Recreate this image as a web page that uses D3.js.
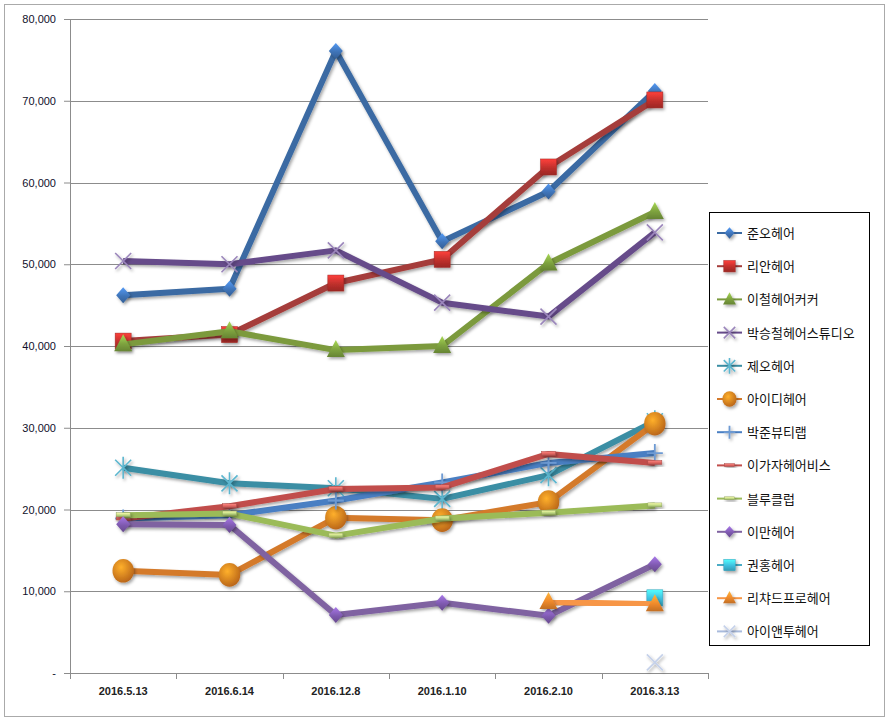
<!DOCTYPE html>
<html>
<head>
<meta charset="utf-8">
<script src="https://cdnjs.cloudflare.com/ajax/libs/d3/7.8.5/d3.min.js"></script>
<style>
  body { margin:0; background:#fff; }
  #canvas { width:893px; height:726px; }
  text { font-family: "Liberation Sans", Arial, sans-serif; }
  .legend text { font-family: "Noto Sans CJK KR", sans-serif; }
</style>
</head>
<body>
<div id="canvas" class="canvas"></div>
<script>
// --- data
var dates = ['2016.5.13', '2016.6.14', '2016.12.8', '2016.1.10', '2016.2.10', '2016.3.13'];
var yTicks = [0, 10000, 20000, 30000, 40000, 50000, 60000, 70000, 80000];

var juno      = [46200, 47000, 76100, 52800, 58900, 71200];
var lian      = [40600, 41400, 47700, 50600, 61900, 70100];
var leechul   = [40200, 41800, 39500, 40000, 50100, 56400];
var parkseung = [50400, 50000, 51700, 45300, 43600, 53900];
var jeo       = [25100, 23200, 22600, 21300, 24200, 30800];
var idhair    = [12500, 12000, 19000, 18700, 20900, 30500];
var parkjun   = [18900, 19300, 21100, 23300, 25700, 26900];
var leegaja   = [18900, 20400, 22500, 22700, 26800, 25700];
var blueclub  = [19300, 19500, 16800, 18900, 19600, 20500];
var leeman    = [18200, 18100, 7100, 8600, 7000, 13300];
var kwonhong  = [null, null, null, null, null, 9200];
var richard   = [null, null, null, null, 8700, 8400];
var iandtwo   = [null, null, null, null, null, 1300];

var series = [
  {name:'준오헤어',         v:juno,      line:'#3a6aa3', fill:'#3f74b8', m:'diamond'},
  {name:'리안헤어',         v:lian,      line:'#a53d3a', fill:'#c0302c', m:'square'},
  {name:'이철헤어커커',     v:leechul,   line:'#7b9a3e', fill:'#7ea33f', m:'triangle'},
  {name:'박승철헤어스튜디오', v:parkseung, line:'#664b8a', fill:'#9b86bb', m:'x'},
  {name:'제오헤어',         v:jeo,       line:'#3a8ea4', fill:'#5cb6cf', m:'star'},
  {name:'아이디헤어',       v:idhair,    line:'#d47a2c', fill:'#e07b1e', m:'circle'},
  {name:'박준뷰티랩',       v:parkjun,   line:'#4a7fc3', fill:'#6d9ad3', m:'plus'},
  {name:'이가자헤어비스',   v:leegaja,   line:'#c14e4b', fill:'#e06662', m:'dash'},
  {name:'블루클럽',         v:blueclub,  line:'#9bbb59', fill:'#c2dc84', m:'dash'},
  {name:'이만헤어',         v:leeman,    line:'#7f62a1', fill:'#7f5ab0', m:'diamond'},
  {name:'권홍헤어',         v:kwonhong,  line:'#4bacc6', fill:'#3fc0df', m:'square'},
  {name:'리챠드프로헤어',   v:richard,   line:'#f79646', fill:'#f08a2c', m:'triangle'},
  {name:'아이앤투헤어',     v:iandtwo,   line:'#a9bbdd', fill:'#c5d1ea', m:'x'}
];

// --- margin convention
var W = 893, H = 726;
var M = {top:19, left:70, right:185, bottom:53};
var w = W - M.left - M.right, h = H - M.top - M.bottom;

var svg = d3.select('.canvas').append('svg')
  .attr('width', W).attr('height', H);

var defs = svg.append('defs');
var f = defs.append('filter').attr('id', 'shadow')
  .attr('x', '-50%').attr('y', '-50%').attr('width', '200%').attr('height', '200%');
f.append('feDropShadow').attr('dx', 1.5).attr('dy', 2).attr('stdDeviation', 1.5)
  .attr('flood-color', '#000').attr('flood-opacity', 0.35);

series.forEach(function(s, i) {
  var g = defs.append('linearGradient').attr('id', 'grad' + i)
    .attr('x1', 0).attr('y1', 0).attr('x2', 0).attr('y2', 1);
  g.append('stop').attr('offset', '0%').attr('stop-color', d3.color(s.fill).brighter(0.8));
  g.append('stop').attr('offset', '55%').attr('stop-color', s.fill);
  g.append('stop').attr('offset', '100%').attr('stop-color', d3.color(s.fill).darker(0.6));
  var r = defs.append('radialGradient').attr('id', 'rgrad' + i)
    .attr('cx', '40%').attr('cy', '35%').attr('r', '65%');
  r.append('stop').attr('offset', '0%').attr('stop-color', d3.color(s.fill).brighter(1));
  r.append('stop').attr('offset', '100%').attr('stop-color', d3.color(s.fill).darker(0.5));
});

// outer chart border
svg.append('rect').attr('x', 4.5).attr('y', 4.5).attr('width', 880).attr('height', 712)
  .attr('fill', 'none').attr('stroke', '#aaa').attr('stroke-width', 1);

var plot = svg.append('g').attr('transform', 'translate(' + M.left + ',' + M.top + ')');

var x = d3.scaleBand().domain(dates).range([0, w]);
var y = d3.scaleLinear().domain([0, 80000]).range([h, 0]);

// gridlines
plot.selectAll('.grid').data(yTicks.slice(1)).enter().append('line')
  .attr('x1', 0).attr('x2', w)
  .attr('y1', function(d){ return Math.round(y(d)) + 0.5; })
  .attr('y2', function(d){ return Math.round(y(d)) + 0.5; })
  .attr('stroke', '#8c8c8c').attr('stroke-width', 1);

// y axis
var yAxis = d3.axisLeft(y).tickValues(yTicks).tickSize(6).tickPadding(8)
  .tickFormat(function(d){ return d === 0 ? '-' : d3.format(',')(d); });
var ya = plot.append('g').call(yAxis);
ya.select('.domain').attr('stroke', '#8c8c8c');
ya.selectAll('.tick line').attr('stroke', '#8c8c8c');
ya.selectAll('text').attr('font-size', 11).attr('fill', '#10102a')
  .attr('font-family', '"Liberation Sans", Arial, sans-serif');

// x axis
var xa = plot.append('g').attr('transform', 'translate(0,' + h + ')')
  .call(d3.axisBottom(x).tickSize(0).tickPadding(14));
xa.select('.domain').attr('stroke', '#8c8c8c');
xa.selectAll('text').attr('font-size', 11).attr('font-weight', 'bold').attr('fill', '#222')
  .attr('font-family', '"Liberation Sans Narrow", "Liberation Sans", Arial, sans-serif');
var bounds = dates.map(function(d){ return x(d); }).concat([w]);
xa.selectAll('.btick').data(bounds).enter().append('line')
  .attr('x1', function(d){ return Math.round(d) + 0.5; })
  .attr('x2', function(d){ return Math.round(d) + 0.5; })
  .attr('y1', 0).attr('y2', 6).attr('stroke', '#8c8c8c');

var cx = function(i){ return x(dates[i]) + x.bandwidth() / 2; };

// --- markers
function marker(sel, s, i, size) {
  var k = size / 14;
  var g = sel.append('g').attr('filter', 'url(#shadow)');
  var fillG = 'url(#grad' + i + ')';
  if (s.m === 'diamond') {
    g.append('path').attr('d', 'M0,' + (-8*k) + 'L' + (7*k) + ',0L0,' + (8*k) + 'L' + (-7*k) + ',0Z')
      .attr('fill', fillG);
  } else if (s.m === 'square') {
    g.append('rect').attr('x', -8*k).attr('y', -8*k).attr('width', 16*k).attr('height', 16*k)
      .attr('fill', fillG).attr('stroke', d3.color(s.fill).darker(0.5)).attr('stroke-width', 0.5);
  } else if (s.m === 'triangle') {
    g.append('path').attr('d', 'M0,' + (-10*k) + 'L' + (9*k) + ',' + (7*k) + 'L' + (-9*k) + ',' + (7*k) + 'Z')
      .attr('fill', fillG);
  } else if (s.m === 'circle') {
    g.append('ellipse').attr('rx', 10*k).attr('ry', 11*k).attr('fill', 'url(#rgrad' + i + ')');
  } else if (s.m === 'x') {
    g.append('path').attr('d', 'M' + (-8*k) + ',' + (-8*k) + 'L' + (8*k) + ',' + (8*k) +
      'M' + (8*k) + ',' + (-8*k) + 'L' + (-8*k) + ',' + (8*k))
      .attr('stroke', s.fill).attr('stroke-width', 1.6).attr('fill', 'none');
  } else if (s.m === 'star') {
    g.append('path').attr('d', 'M' + (-8*k) + ',' + (-8*k) + 'L' + (8*k) + ',' + (8*k) +
      'M' + (8*k) + ',' + (-8*k) + 'L' + (-8*k) + ',' + (8*k) + 'M0,' + (-11*k) + 'L0,' + (11*k))
      .attr('stroke', s.fill).attr('stroke-width', 1.6).attr('fill', 'none');
  } else if (s.m === 'plus') {
    g.append('path').attr('d', 'M' + (-8*k) + ',0L' + (8*k) + ',0M0,' + (-9*k) + 'L0,' + (9*k))
      .attr('stroke', s.fill).attr('stroke-width', 1.8).attr('fill', 'none');
  } else if (s.m === 'dash') {
    g.append('rect').attr('x', -7*k).attr('y', -2.5*k).attr('width', 14*k).attr('height', 4*k)
      .attr('fill', fillG).attr('stroke', d3.color(s.fill).darker(0.8)).attr('stroke-width', 0.5);
  }
  return g;
}

var line = d3.line()
  .defined(function(d){ return d != null; })
  .x(function(d, i){ return cx(i); })
  .y(function(d){ return y(d); });

series.forEach(function(s, i) {
  var sg = plot.append('g');
  sg.append('path').datum(s.v).attr('d', line)
    .attr('fill', 'none').attr('stroke', s.line).attr('stroke-width', 6)
    .attr('stroke-linejoin', 'round').attr('filter', 'url(#shadow)');
  s.v.forEach(function(d, j) {
    if (d == null) return;
    var m = marker(sg, s, i, s.m === 'circle' ? 15 : 14);
    m.attr('transform', 'translate(' + cx(j) + ',' + y(d) + ')');
  });
});

// --- legend
var lg = svg.append('g').attr('class', 'legend').attr('transform', 'translate(709,212)');
lg.append('rect').attr('x', 0.5).attr('y', 0.5).attr('width', 160).attr('height', 433)
  .attr('fill', '#fff').attr('stroke', '#000').attr('stroke-width', 1);
series.forEach(function(s, i) {
  var ry = 21 + i * 33.2;
  var row = lg.append('g').attr('transform', 'translate(0,' + ry + ')');
  row.append('line').attr('x1', 8).attr('x2', 33).attr('y1', 0).attr('y2', 0)
    .attr('stroke', s.line).attr('stroke-width', 2);
  var m = marker(row, s, i, 10);
  m.attr('transform', 'translate(20.5,0)');
  row.append('text').attr('x', 38).attr('y', 5).attr('font-size', 13).attr('fill', '#111')
    .text(s.name);
});
</script>
</body>
</html>
